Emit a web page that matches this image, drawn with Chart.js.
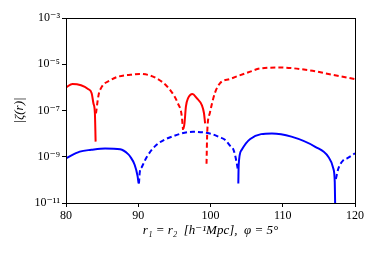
<!DOCTYPE html>
<html>
<head>
<meta charset="utf-8">
<script src="https://cdn.jsdelivr.net/npm/chart.js@4/dist/chart.umd.min.js"></script>
<style>
html,body{margin:0;padding:0;background:#fff;}
#wrap{width:379px;height:253px;position:relative;}
</style>
</head>
<body>
<div id="wrap"><canvas id="c"></canvas></div>
<script>
// ---- data (r in h^-1 Mpc, |zeta(r)|) ----
const redSolidA_r = [80, 80.9, 83.1, 83.55, 83.8, 84.0, 84.1];
const redSolidA_z = [1.0e-6, 1.4e-6, 8.3e-7, 5.6e-7, 2.0e-7, 7.6e-8, 4.5e-9];
const redDashA_r = [84.15, 84.5, 84.9, 86.1, 87.2, 88.9, 90.2, 92.5, 94.4, 95.5, 96.0, 96.2];
const redDashA_z = [7.5e-8, 4.5e-7, 1.0e-6, 2.0e-6, 2.9e-6, 3.5e-6, 3.8e-6, 2.5e-6, 7.8e-7, 2.0e-7, 6.5e-8, 1.45e-8];
const redSolidB_r = [96.25, 96.4, 96.6, 96.9, 97.5, 98.1, 98.8, 99.1, 99.25];
const redSolidB_z = [1.6e-8, 2.8e-8, 1.5e-7, 3.4e-7, 5.2e-7, 3.4e-7, 1.7e-7, 7.6e-8, 2.8e-8];
const redDashB_r = [99.45, 99.55, 99.9, 100.6, 101.3, 102.7, 105.5, 106.9, 109.6, 113.8, 116.5, 120];
const redDashB_z = [5.0e-10, 1.2e-8, 7.6e-8, 5.6e-7, 1.5e-6, 2.3e-6, 4.8e-6, 6.6e-6, 7.2e-6, 5.4e-6, 3.7e-6, 2.3e-6];

const blueSolidA_r = [80, 81.9, 83.5, 85.4, 87.5, 88.6, 88.9, 89.5, 89.9, 90.05];
const blueSolidA_z = [8.5e-10, 1.66e-9, 2.0e-9, 2.3e-9, 2.1e-9, 1.3e-9, 1.0e-9, 4.5e-10, 1.5e-10, 7.0e-11];
const blueDashA_r = [90.1, 90.2, 90.5, 91.2, 92.5, 94.9, 97.6, 99.9, 101.3, 102.0, 102.7, 103.2, 103.6, 103.76];
const blueDashA_z = [7.0e-11, 2.0e-10, 3.6e-10, 1.0e-9, 3.2e-9, 7.9e-9, 1.2e-8, 1.02e-8, 6.9e-9, 5.4e-9, 3.0e-9, 1.95e-9, 6.0e-10, 3.1e-10];
const blueSolidB_r = [103.85, 103.9, 104.3, 105.5, 108.5, 111.2, 114.5, 116.3, 117.0, 117.2, 117.3];
const blueSolidB_z = [7.0e-11, 4.4e-10, 1.95e-9, 5.9e-9, 1.02e-8, 7.4e-9, 2.7e-9, 1.0e-9, 3.1e-10, 8.0e-11, 1.0e-12];
const blueDashB_r = [117.35, 117.7, 118.4, 118.9, 120];
const blueDashB_z = [1.1e-10, 3.1e-10, 7.2e-10, 8.5e-10, 1.4e-9];

const yTickExps = [-11, -9, -7, -5, -3];
const yTickLabels = ['10\u207B\u00B9\u00B9', '10\u207B\u2079', '10\u207B\u2077', '10\u207B\u2075', '10\u207B\u00B3'];
const xTicks = [80, 90, 100, 110, 120];

const RED = '#ff0000', BLUE = '#0000ff';
const FONT = "'Liberation Serif', 'DejaVu Serif', serif";

function pts(rs, zs){ return rs.map((r,i)=>({x:r, y:zs[i]})); }
function ds(rs, zs, color, dashed){
  return {
    data: pts(rs, zs), borderColor: color, backgroundColor: color,
    borderWidth: 2, borderDash: dashed ? [5, 3] : [], pointRadius: 0,
    fill: false, cubicInterpolationMode: 'monotone', borderCapStyle: 'butt'
  };
}

const framePlugin = {
  id: 'frame',
  afterDatasetsDraw(chart){
    const {ctx, chartArea:a} = chart;
    ctx.save();
    ctx.strokeStyle = '#000';
    ctx.lineWidth = 1;
    ctx.strokeRect(Math.round(a.left)+0.5, Math.round(a.top)+0.5, Math.round(a.right-a.left), Math.round(a.bottom-a.top));
    ctx.restore();
  }
};

new Chart(document.getElementById('c'), {
  type: 'line',
  data: {
    datasets: [
      ds(redSolidA_r, redSolidA_z, RED, false),
      ds(redDashA_r, redDashA_z, RED, true),
      ds(redSolidB_r, redSolidB_z, RED, false),
      ds(redDashB_r, redDashB_z, RED, true),
      ds(blueSolidA_r, blueSolidA_z, BLUE, false),
      ds(blueDashA_r, blueDashA_z, BLUE, true),
      ds(blueSolidB_r, blueSolidB_z, BLUE, false),
      ds(blueDashB_r, blueDashB_z, BLUE, true)
    ]
  },
  options: {
    responsive: true, maintainAspectRatio: false, animation: false,
    layout: { padding: { top: 18, right: 24, left: 0, bottom: 0 } },
    plugins: { legend: { display: false }, tooltip: { enabled: false } },
    scales: {
      x: {
        type: 'linear', min: 80, max: 120,
        afterBuildTicks(scale){ scale.ticks = xTicks.map(v=>({value:v})); },
        afterFit(scale){ scale.height = 50; },
        grid: { drawOnChartArea: false, drawTicks: true, tickLength: 4, color: '#000' },
        border: { display: true, color: '#000', width: 1 },
        ticks: { color: '#000', font: { family: FONT, size: 12 }, padding: 2, maxRotation: 0,
                 callback: v => String(v) },
        title: { display: true, text: 'r\u2081 = r\u2082  [h\u207B\u00B9Mpc],  \u03C6 = 5\u00B0', color: '#000',
                 font: { family: FONT, size: 13, style: 'italic' }, padding: { top: 0, bottom: 15 } }
      },
      y: {
        type: 'logarithmic', min: 1e-11, max: 1e-3,
        afterBuildTicks(scale){ scale.ticks = yTickExps.map(e=>({value: Math.pow(10, e)})); },
        afterFit(scale){ scale.width = 66; },
        grid: { drawOnChartArea: false, drawTicks: true, tickLength: 4, color: '#000' },
        border: { display: true, color: '#000', width: 1 },
        ticks: { color: '#000', font: { family: FONT, size: 12 }, padding: 2,
                 callback: (v, i) => yTickLabels[i] },
        title: { display: true, text: '|\u03B6(r)|', color: '#000',
                 font: { family: FONT, size: 13, style: 'italic' }, padding: { top: 12, bottom: 0 } }
      }
    }
  },
  plugins: [framePlugin]
});
</script>
</body>
</html>
